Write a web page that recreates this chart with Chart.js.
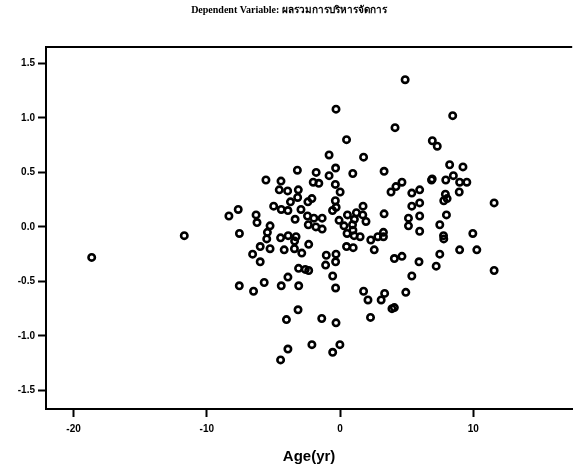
<!DOCTYPE html>
<html>
<head>
<meta charset="utf-8">
<script src="https://cdn.jsdelivr.net/npm/chart.js@4.4.1/dist/chart.umd.min.js"></script>
<style>
  html, body { margin: 0; padding: 0; background: #fff; }
  #wrap { width: 578px; height: 466px; }
</style>
</head>
<body>
<div id="wrap"><canvas id="residChart" width="578" height="466"></canvas></div>
<script>
// Age (yr) on x, residual of the dependent variable on y
const ageValues = [
    -18.64, -11.69, -8.34, -7.64, -6.30, -6.23, -7.55, -6.56, -5.99, -5.99,
    -7.56, -6.49, -5.69, -5.25, -5.45, -5.50, -5.25, -5.56, -4.98, -4.41,
    -3.91, -4.43, -4.56, -3.93, -3.13, -3.18, -3.72, -2.41, -2.11, -3.20,
    -1.79, -2.01, -1.59, -0.82, -0.33, -0.82, 1.77, 0.96, 3.31, -0.35,
    0.01, -0.35, -0.56, -0.29, -2.93, -2.44, -1.96, -1.34, -3.37, -2.38,
    -1.81, -1.34, -4.46, -3.89, -3.41, -3.30, -4.19, -3.42, -2.87, -2.35,
    -4.41, -3.91, -3.11, -2.61, -2.35, -3.10, -3.15, -4.02, -3.91, -4.46,
    -2.11, -1.37, -0.30, -0.55, -0.01, -0.55, -0.33, -1.08, -1.03, -0.30,
    -0.33, -0.30, 0.49, 4.89, 4.13, 8.46, 6.93, 7.30, 8.23, 9.23,
    8.51, 6.87, 6.92, 7.94, 8.98, 9.52, 8.95, 3.83, 4.20, 4.65,
    5.39, 5.98, 5.39, 5.98, 7.91, 7.79, 8.04, 11.57, 3.31, 5.14,
    5.14, 5.98, 7.99, 7.49, 3.26, 3.26, 2.84, 5.98, 7.77, 7.79,
    9.97, 8.98, 10.27, 7.49, 7.22, 5.93, 5.39, 4.08, 4.65, 2.57,
    2.31, 3.35, 3.09, 4.94, 3.90, 4.08, 2.29, 1.77, 2.10, 11.57,
    -0.07, 0.30, 0.56, 0.94, 1.08, 1.23, 1.73, 1.71, 1.95, 0.53,
    0.97, 1.06, 1.51, 0.49, 0.99
];
const residualValues = [
    -0.28, -0.08, 0.10, 0.16, 0.11, 0.04, -0.06, -0.25, -0.18, -0.32,
    -0.54, -0.59, -0.51, 0.01, -0.05, -0.11, -0.20, 0.43, 0.19, 0.16,
    0.15, 0.42, 0.34, 0.33, 0.34, 0.27, 0.23, 0.23, 0.26, 0.52,
    0.50, 0.41, 0.40, 0.47, 0.54, 0.66, 0.64, 0.49, 0.51, 0.39,
    0.32, 0.24, 0.15, 0.18, 0.16, 0.10, 0.08, 0.08, 0.07, 0.02,
    0.00, -0.02, -0.10, -0.08, -0.13, -0.09, -0.21, -0.20, -0.24, -0.16,
    -0.54, -0.46, -0.38, -0.39, -0.40, -0.54, -0.76, -0.85, -1.12, -1.22,
    -1.08, -0.84, -0.88, -1.15, -1.08, -0.45, -0.56, -0.35, -0.26, -0.25,
    -0.32, 1.08, 0.80, 1.35, 0.91, 1.02, 0.79, 0.74, 0.57, 0.55,
    0.47, 0.43, 0.44, 0.43, 0.41, 0.41, 0.32, 0.32, 0.37, 0.41,
    0.31, 0.34, 0.19, 0.22, 0.30, 0.24, 0.26, 0.22, 0.12, 0.08,
    0.01, 0.10, 0.11, 0.02, -0.05, -0.09, -0.09, -0.04, -0.08, -0.11,
    -0.06, -0.21, -0.21, -0.25, -0.36, -0.32, -0.45, -0.29, -0.27, -0.21,
    -0.12, -0.61, -0.67, -0.60, -0.75, -0.74, -0.83, -0.59, -0.67, -0.40,
    0.06, 0.01, 0.11, 0.02, 0.07, 0.13, 0.19, 0.11, 0.05, -0.06,
    -0.03, -0.08, -0.09, -0.18, -0.19
];
const xTicks = [-20, -10, 0, 10];
const yTicks = [-1.5, -1.0, -0.5, 0.0, 0.5, 1.0, 1.5];
const chartTitle = 'Dependent Variable: ผลรวมการบริหารจัดการ';
const xTitle = 'Age(yr)';

// SPSS draws a frame line along the top, but the right side is cut off
const topFrame = {
    id: 'topFrame',
    afterDraw(chart) {
        const { ctx, chartArea } = chart;
        ctx.save();
        ctx.strokeStyle = '#000';
        ctx.lineWidth = 2;
        ctx.beginPath();
        ctx.moveTo(chartArea.left - 1, chartArea.top);
        ctx.lineTo(chartArea.right, chartArea.top);
        ctx.stroke();
        ctx.restore();
    }
};

const points = ageValues.map((a, i) => ({ x: a, y: residualValues[i] }));

new Chart(document.getElementById('residChart'), {
    type: 'scatter',
    data: {
        datasets: [{
            data: points,
            pointStyle: 'circle',
            pointRadius: 3.2,
            pointHoverRadius: 3.2,
            borderWidth: 2.6,
            borderColor: '#000',
            backgroundColor: 'rgba(0,0,0,0)'
        }]
    },
    options: {
        responsive: false,
        devicePixelRatio: 1,
        animation: false,
        layout: { padding: { left: 0, right: 0, top: 0, bottom: 0 } },
        plugins: {
            legend: { display: false },
            tooltip: { enabled: false },
            title: {
                display: true,
                text: chartTitle,
                color: '#000',
                font: { family: 'Liberation Serif', weight: 'bold', size: 10 },
                padding: { top: 4, bottom: 31 }
            }
        },
        scales: {
            x: {
                type: 'linear',
                min: -22.07,
                max: 17.43,
                afterBuildTicks: (scale) => { scale.ticks = xTicks.map(v => ({ value: v })); },
                afterFit: (scale) => { scale.height = 57; },
                grid: {
                    display: true,
                    drawOnChartArea: false,
                    drawTicks: true,
                    tickLength: 8,
                    tickColor: '#000',
                    tickWidth: 2
                },
                border: { display: true, color: '#000', width: 2 },
                ticks: {
                    color: '#000',
                    padding: 6,
                    maxRotation: 0,
                    font: { family: 'Liberation Sans', weight: 'bold', size: 10 }
                },
                title: {
                    display: true,
                    text: xTitle,
                    color: '#000',
                    font: { family: 'Liberation Sans', weight: 'bold', size: 15 },
                    padding: { top: 2, bottom: 0 }
                }
            },
            y: {
                type: 'linear',
                min: -1.67,
                max: 1.65,
                afterBuildTicks: (scale) => { scale.ticks = yTicks.map(v => ({ value: v })); },
                afterFit: (scale) => { scale.width = 46; },
                grid: {
                    display: true,
                    drawOnChartArea: false,
                    drawTicks: true,
                    tickLength: 8,
                    tickColor: '#000',
                    tickWidth: 2
                },
                border: { display: true, color: '#000', width: 2 },
                ticks: {
                    color: '#000',
                    padding: 3,
                    font: { family: 'Liberation Sans', weight: 'bold', size: 10 },
                    callback: (v) => Number(v).toFixed(1)
                }
            }
        }
    },
    plugins: [topFrame]
});
</script>
</body>
</html>
